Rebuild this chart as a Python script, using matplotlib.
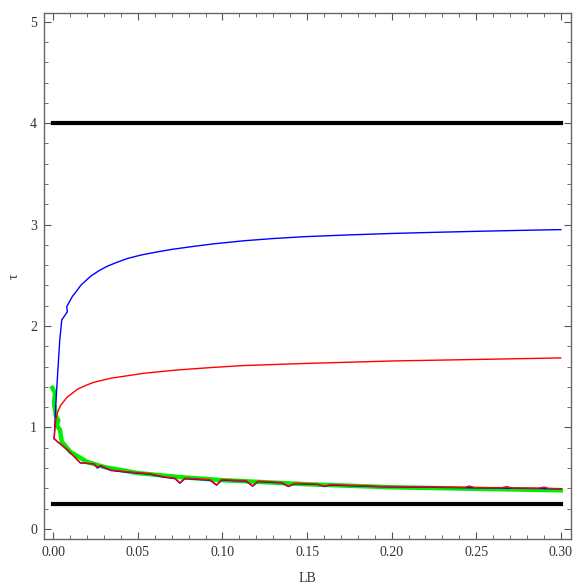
import numpy as np
import matplotlib.pyplot as plt
from matplotlib.ticker import MultipleLocator

# upper branch (blue)
lb_blue_up = [0.0005, 0.0014, 0.0038, 0.005, 0.0083, 0.0079, 0.0112, 0.014, 0.0162, 0.022,
              0.027, 0.032, 0.038, 0.0437, 0.052, 0.0614, 0.07, 0.083, 0.095, 0.1126,
              0.13, 0.148, 0.175, 0.20, 0.225, 0.25, 0.275, 0.30]
tau_blue_up = [0.89, 1.22, 1.86, 2.06, 2.14, 2.19, 2.29, 2.35, 2.40, 2.49,
               2.545, 2.59, 2.63, 2.665, 2.70, 2.73, 2.755, 2.785, 2.81, 2.84,
               2.862, 2.88, 2.898, 2.912, 2.923, 2.933, 2.942, 2.95]

# upper branch (red)
lb_red_up = [0.0005, 0.0014, 0.0025, 0.0044, 0.0083, 0.0142, 0.02, 0.024, 0.034, 0.0536,
             0.073, 0.093, 0.1126, 0.148, 0.20, 0.25, 0.30]
tau_red_up = [0.89, 1.07, 1.15, 1.22, 1.30, 1.376, 1.42, 1.445, 1.485, 1.534,
              1.566, 1.59, 1.61, 1.63, 1.655, 1.67, 1.685]

# lower branch, shared abscissae
lb_low = [0.0005, 0.0024, 0.0083, 0.016, 0.024, 0.026, 0.028, 0.034, 0.0457, 0.057,
          0.065, 0.0719, 0.0748, 0.0778, 0.0926, 0.0965, 0.0995, 0.114, 0.1178, 0.121,
          0.135, 0.139, 0.143, 0.1567, 0.160, 0.164, 0.195, 0.2245, 0.243, 0.246,
          0.249, 0.265, 0.268, 0.271, 0.287, 0.290, 0.293, 0.3003]
tau_blue_low = [0.89, 0.86, 0.78, 0.65, 0.64, 0.60, 0.62, 0.575, 0.555, 0.54,
                0.51, 0.495, 0.45, 0.495, 0.48, 0.43, 0.48, 0.47, 0.42, 0.466,
                0.453, 0.417, 0.446, 0.437, 0.417, 0.432, 0.414, 0.41, 0.406, 0.405,
                0.404, 0.402, 0.401, 0.400, 0.398, 0.397, 0.396, 0.394]
tau_red_low = [0.89, 0.86, 0.78, 0.65, 0.64, 0.61, 0.625, 0.58, 0.56, 0.545,
               0.515, 0.50, 0.455, 0.50, 0.485, 0.435, 0.485, 0.475, 0.425, 0.47,
               0.458, 0.42, 0.45, 0.44, 0.42, 0.436, 0.418, 0.413, 0.409, 0.422,
               0.407, 0.405, 0.417, 0.403, 0.401, 0.412, 0.399, 0.397]

# green reference curve
lb_green = [-0.0006, 0.001, 0.0004, 0.0016, 0.003, 0.002, 0.004, 0.0045, 0.005, 0.010,
            0.02, 0.03, 0.05, 0.075, 0.10, 0.125, 0.15, 0.20, 0.25, 0.30]
tau_green = [1.39, 1.34, 1.24, 1.11, 1.07, 1.02, 0.975, 0.91, 0.86, 0.76,
             0.66, 0.61, 0.55, 0.51, 0.48, 0.46, 0.44, 0.41, 0.395, 0.38]

# bounds
bounds = [4.0, 0.25]

plt.rcParams['font.family'] = ['Liberation Serif', 'DejaVu Serif']

fig = plt.figure(figsize=(5.74, 5.85), dpi=100)
ax = fig.add_axes([0.0767, 0.0786, 0.918, 0.9])

ax.plot(lb_green, tau_green, color='#00ee00', lw=3.2, solid_joinstyle='round')
ax.plot(lb_low, tau_blue_low, color='blue', lw=1.0)
ax.plot(lb_low, tau_red_low, color='red', lw=1.0)
ax.plot(lb_blue_up, tau_blue_up, color='blue', lw=1.0)
ax.plot(lb_red_up, tau_red_up, color='red', lw=1.0)
for b in bounds:
    ax.plot([0, 0.3], [b, b], color='black', lw=3)

ax.set_xlim(-0.0055, 0.306)
ax.set_ylim(-0.1, 5.09)

ax.xaxis.set_major_locator(MultipleLocator(0.05))
ax.xaxis.set_minor_locator(MultipleLocator(0.01))
ax.yaxis.set_major_locator(MultipleLocator(1))
ax.yaxis.set_minor_locator(MultipleLocator(0.2))
ax.xaxis.set_major_formatter(plt.FuncFormatter(lambda v, p: f"{v:.2f}"))

ax.tick_params(which='both', direction='in', top=True, right=True,
               color='#555555', labelsize=10, labelcolor='#333333', pad=5)
ax.tick_params(which='major', length=5, width=0.8)
ax.tick_params(which='minor', length=3, width=0.6)
for s in ax.spines.values():
    s.set_color('#666666')
    s.set_linewidth(1.0)

ax.set_xlabel('LB', fontsize=10, color='#333333', labelpad=9.5)
ax.set_ylabel('τ', fontsize=10, color='#333333', labelpad=7)

fig.savefig('out.png', dpi=100)
